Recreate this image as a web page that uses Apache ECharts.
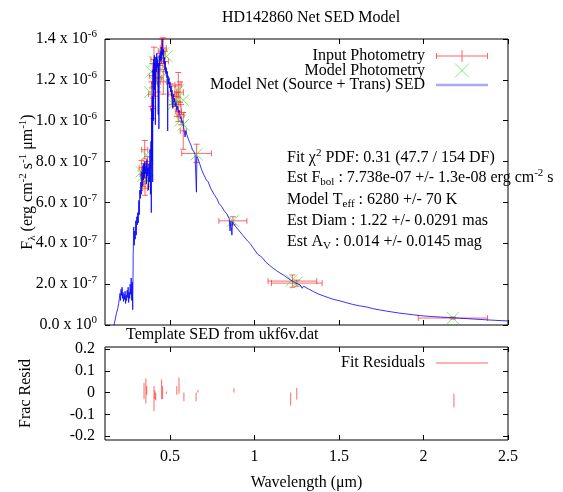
<!DOCTYPE html>
<html><head><meta charset="utf-8">
<script src="https://cdn.jsdelivr.net/npm/echarts@6/dist/echarts.min.js"></script>
<style>html,body{margin:0;padding:0;background:#fff}#c{width:563px;height:492px}</style>
</head><body><div id="c"></div>
<script>
// ---- Data (flux in units of 1e-7 erg cm^-2 s^-1 um^-1) ----
const specWl = [0.168,0.175,0.182,0.190,0.196,0.200,0.204,0.207,0.210,0.213,0.216,0.219,0.222,0.225,0.228,0.231,0.234,0.237,0.240,0.243,0.246,0.249,0.252,0.255,0.258,0.261,0.264,0.267,0.270,0.273,0.276,0.279,0.282,0.285,0.288,0.291,0.294,0.297,0.300,0.303,0.306,0.309,0.312,0.315,0.318,0.321,0.324,0.327,0.330,0.333,0.336,0.339,0.342,0.345,0.348,0.351,0.354,0.357,0.360,0.363,0.366,0.369,0.372,0.375,0.378,0.381,0.384,0.387,0.389,0.391,0.393,0.395,0.397,0.399,0.401,0.403,0.405,0.407,0.409,0.411,0.413,0.415,0.418,0.421,0.424,0.427,0.430,0.433,0.434,0.436,0.439,0.442,0.445,0.448,0.451,0.454,0.457,0.460,0.463,0.466,0.469,0.472,0.475,0.478,0.481,0.484,0.486,0.488,0.491,0.494,0.497,0.500,0.503,0.506,0.509,0.512,0.516,0.519,0.523,0.527,0.531,0.535,0.540,0.545,0.550,0.555,0.560,0.565,0.570,0.575,0.580,0.585,0.589,0.593,0.600,0.608,0.616,0.624,0.632,0.640,0.648,0.653,0.656,0.659,0.665,0.675,0.687,0.700,0.715,0.726,0.740,0.760,0.776,0.790,0.805,0.820,0.835,0.850,0.855,0.860,0.866,0.870,0.875,0.885,0.900,0.915,0.930,0.945,0.960,0.975,0.990,1.005,1.020,1.035,1.050,1.070,1.090,1.110,1.130,1.150,1.170,1.190,1.210,1.230,1.250,1.270,1.282,1.290,1.320,1.350,1.380,1.410,1.440,1.470,1.505,1.540,1.580,1.620,1.664,1.700,1.740,1.780,1.820,1.860,1.900,1.940,1.980,2.020,2.060,2.100,2.140,2.180,2.220,2.260,2.300,2.340,2.380,2.420,2.460,2.500];
const specFlux = [0.00,0.25,0.55,0.80,1.05,1.30,1.55,1.20,1.75,1.45,1.85,1.30,1.60,1.15,1.50,1.25,1.65,1.05,1.45,1.20,1.70,1.35,1.85,1.10,1.60,1.30,2.00,1.50,2.30,1.20,2.10,0.75,3.50,4.80,3.90,4.60,4.20,5.10,4.40,5.30,4.90,5.50,5.00,6.10,5.40,6.60,6.20,7.00,6.40,7.50,6.80,7.80,7.10,7.90,7.20,8.00,7.40,7.80,6.90,8.10,7.30,7.70,6.60,7.90,7.00,8.60,6.40,9.00,5.50,10.60,8.00,11.20,7.00,12.50,10.00,13.00,12.00,13.20,11.50,12.80,9.80,13.10,12.40,13.30,12.60,13.00,10.30,12.80,9.60,13.20,12.70,13.40,12.90,13.60,13.00,14.00,13.20,13.50,12.80,13.10,12.50,12.90,12.30,12.60,12.10,12.40,9.50,12.20,11.80,12.10,11.60,11.90,11.40,11.70,11.20,11.50,10.60,11.30,10.90,11.10,10.70,10.90,10.50,10.70,10.40,10.50,10.10,10.20,9.90,10.00,9.70,9.75,9.20,9.50,9.30,9.10,8.95,8.80,8.60,8.50,8.35,8.30,6.50,8.25,8.15,7.90,7.60,7.35,7.10,7.00,6.70,6.40,6.20,5.95,5.80,5.60,5.45,5.20,4.60,5.10,4.40,5.05,5.00,4.85,4.70,4.55,4.40,4.25,4.10,3.98,3.80,3.62,3.45,3.38,3.25,3.05,2.92,2.78,2.66,2.55,2.45,2.33,2.22,2.12,2.03,1.96,1.80,1.90,1.76,1.63,1.51,1.42,1.33,1.25,1.18,1.10,1.01,0.94,0.88,0.80,0.74,0.68,0.63,0.58,0.54,0.50,0.46,0.43,0.41,0.39,0.37,0.35,0.33,0.31,0.29,0.27,0.25,0.23,0.215,0.20];

const photWl      = [0.332,0.342,0.350,0.352,0.360,0.366,0.345,0.390,0.400,0.405,0.410,0.420,0.440,0.450,0.460,0.460,0.430,0.395,0.470,0.510,0.529,0.549,0.559,0.549,0.540,0.578,0.565,0.657,0.872,1.224,1.250,2.174];
const photFlux    = [7.70,7.19,8.58,6.70,7.60,7.84,7.40,11.30,10.60,13.00,11.80,12.50,12.70,13.40,13.56,11.90,12.10,12.20,12.90,11.30,11.20,11.76,11.40,10.46,10.80,9.50,10.30,8.40,5.10,2.15,2.05,0.34];
const photWlErr   = [0.015,0.015,0.018,0.015,0.015,0.018,0.020,0.018,0.015,0.018,0.018,0.020,0.018,0.020,0.018,0.018,0.020,0.018,0.020,0.018,0.020,0.020,0.020,0.018,0.020,0.018,0.018,0.088,0.083,0.144,0.150,0.205];
const photFluxErr = [0.35,0.40,0.45,0.35,0.40,0.40,0.50,0.60,0.50,0.60,0.60,0.60,0.60,0.60,0.50,0.60,0.70,0.60,0.50,0.50,0.50,0.60,0.50,0.50,0.60,0.90,0.50,0.45,0.20,0.30,0.15,0.05];

const modelWl   = [0.330,0.342,0.360,0.352,0.366,0.381,0.390,0.405,0.410,0.450,0.480,0.440,0.460,0.519,0.559,0.578,0.549,0.530,0.578,0.657,0.872,1.220,1.250,2.174];
const modelFlux = [7.50,7.30,8.33,7.00,7.60,11.40,12.40,12.90,11.90,12.10,13.15,12.50,13.30,10.80,10.00,11.00,11.50,11.00,9.80,8.35,5.10,2.18,2.08,0.34];

const residWl = [0.346,0.357,0.362,0.405,0.410,0.415,0.450,0.456,0.478,0.540,0.553,0.582,0.654,0.665,0.878,1.214,1.250,2.180];
const residLo = [-0.030,-0.050,-0.010,-0.085,-0.030,-0.035,-0.030,-0.030,-0.005,-0.010,-0.005,-0.040,-0.040,0.000,0.000,-0.060,-0.032,-0.068];
const residHi = [0.045,0.065,0.030,0.030,0.010,0.000,0.060,0.030,0.005,0.030,0.070,0.000,0.000,0.012,0.020,0.000,0.022,-0.005];

const xTicks = [0.5,1,1.5,2,2.5];
const xTickLabels = ['0.5','1','1.5','2','2.5'];
const fluxTicks = [0,2,4,6,8,10,12,14];
const fluxTickMant = ['0.0','2.0','4.0','6.0','8.0','1.0','1.2','1.4'];
const fluxTickExp = ['0','-7','-7','-7','-7','-6','-6','-6'];
const residTicks = [-0.2,-0.1,0,0.1,0.2];
const residTickLabels = ['-0.2','-0.1','0','0.1','0.2'];

// ---- Chart ----
const FONT = "'Liberation Serif','Times New Roman',serif";
const RED = 'rgba(255,0,0,0.6)';
const GREEN = 'rgba(40,230,40,0.8)';
const chart = echarts.init(document.getElementById('c'), null, {renderer:'canvas'});

const tickStyle = {show:true, inside:true, length:5, lineStyle:{color:'#000', width:1}};
function xAx(grid, pos, labels, extra) {
  return Object.assign({
    type:'value', gridIndex:grid, position:pos, min:0.115, max:2.5,
    axisLine:{show:false, onZero:false}, splitLine:{show:false},
    axisTick:Object.assign({customValues:xTicks}, tickStyle),
    axisLabel: labels ? {customValues:xTicks, margin:9, color:'#000', fontFamily:FONT, fontSize:16,
      formatter:v => xTickLabels[xTicks.indexOf(v)] ?? String(v)} : {show:false}
  }, extra||{});
}
const sub = {fontSize:11, lineHeight:10, verticalAlign:'bottom', fontFamily:FONT, color:'#000'};
const sup = {fontSize:11, lineHeight:10, verticalAlign:'top', fontFamily:FONT, color:'#000'};
const main = {fontSize:16, lineHeight:20, fontFamily:FONT, color:'#000'};
const richSet = {m:main, s:sup, b:sub};
const redIcon = 'path://M0,6.5L52,6.5L52,7.5L0,7.5Z M0,4L1,4L1,10L0,10Z M51,4L52,4L52,10L51,10Z M25.5,1L26.5,1L26.5,13L25.5,13Z';

const option = {
  animation:false,
  backgroundColor:'#fff',
  title:{text:'HD142860 Net SED Model', left:306, top:5, textAlign:'center',
    textStyle:{fontFamily:FONT, fontSize:16, fontWeight:'normal', color:'#000'}},
  grid:[
    {left:105, top:39, width:403, height:286, show:true, borderColor:'#000', borderWidth:1, backgroundColor:'transparent'},
    {left:105, top:347, width:403, height:94, show:true, borderColor:'#000', borderWidth:1, backgroundColor:'transparent'}
  ],
  xAxis:[
    xAx(0,'bottom',false),
    xAx(0,'top',false),
    xAx(1,'bottom',true,{name:'Wavelength (μm)', nameLocation:'middle', nameGap:35, nameMoveOverlap:false,
      nameTextStyle:{fontFamily:FONT, fontSize:16, color:'#000'}}),
    xAx(1,'top',false)
  ],
  yAxis:[
    {type:'value', gridIndex:0, position:'left', min:0, max:14, interval:2,
      axisLine:{show:false}, splitLine:{show:false}, axisTick:tickStyle,
      axisLabel:{margin:8, formatter:v => { const i = fluxTicks.indexOf(Math.round(v)); return '{m|' + fluxTickMant[i] + ' x 10}{s|' + fluxTickExp[i] + '}'; }, rich:richSet},
      name:'{m|F}{b|λ}{m| (erg cm}{s|-2}{m| s}{s|-1}{m| μm}{s|-1}{m|)}', nameLocation:'middle', nameGap:67, nameRotate:90, nameMoveOverlap:false,
      nameTextStyle:{rich:richSet, fontFamily:FONT, fontSize:16, color:'#000'}},
    {type:'value', gridIndex:0, position:'right', min:0, max:14, interval:2,
      axisLine:{show:false}, splitLine:{show:false}, axisTick:tickStyle, axisLabel:{show:false}},
    {type:'value', gridIndex:1, position:'left', min:-0.218, max:0.21,
      axisLine:{show:false, onZero:false}, splitLine:{show:false},
      axisTick:Object.assign({customValues:residTicks}, tickStyle),
      axisLabel:{customValues:residTicks, margin:10, color:'#000', fontFamily:FONT, fontSize:16,
        formatter:v => residTickLabels[residTicks.indexOf(v)] ?? String(v)},
      name:'Frac Resid', nameLocation:'middle', nameGap:71, nameRotate:90, nameMoveOverlap:false,
      nameTextStyle:{fontFamily:FONT, fontSize:16, color:'#000'}},
    {type:'value', gridIndex:1, position:'right', min:-0.218, max:0.21,
      axisLine:{show:false, onZero:false}, splitLine:{show:false},
      axisTick:Object.assign({customValues:residTicks}, tickStyle), axisLabel:{show:false}}
  ],
  legend:[
    {orient:'vertical', align:'right', right:70, top:43, itemWidth:52, itemHeight:14, itemGap:-3,
      selectedMode:false, textStyle:{fontFamily:FONT, fontSize:16, color:'#000', padding:[0,6,0,0]},
      data:[
        {name:'Input Photometry', icon:redIcon, itemStyle:{color:RED, borderWidth:0}},
        {name:'Model Photometry', icon:'path://M0,0L12,12M12,0L0,12',
          itemStyle:{color:'none', borderColor:GREEN, borderWidth:1}},
        {name:'Model Net (Source + Trans) SED', icon:'path://M0,0L52,0L52,2.5L0,2.5Z',
          itemStyle:{color:'rgba(110,110,255,0.6)', borderWidth:0}}
      ]},
    {orient:'vertical', align:'right', right:70, top:350, itemWidth:52, itemHeight:14,
      selectedMode:false, textStyle:{fontFamily:FONT, fontSize:16, color:'#000', padding:[0,6,0,0]},
      data:[{name:'Fit Residuals', icon:'path://M0,0L52,0L52,1.2L0,1.2Z', itemStyle:{color:RED, borderWidth:0}}]}
  ],
  graphic:[
    {type:'text', x:126, y:335, style:{text:'Template SED from ukf6v.dat', fontFamily:FONT, fontSize:16, fill:'#000', verticalAlign:'middle'}},
    {type:'text', x:287, y:158, style:{text:'{m|Fit χ}{s|2}{m| PDF: 0.31 (47.7 / 154 DF)}', rich:richSet, verticalAlign:'middle'}},
    {type:'text', x:287, y:178, style:{text:'{m|Est F}{b|bol}{m| : 7.738e-07 +/- 1.3e-08 erg cm}{s|-2}{m| s}', rich:richSet, verticalAlign:'middle'}},
    {type:'text', x:287, y:200, style:{text:'{m|Model T}{b|eff}{m| : 6280 +/- 70 K}', rich:richSet, verticalAlign:'middle'}},
    {type:'text', x:287, y:221, style:{text:'{m|Est Diam : 1.22 +/- 0.0291 mas}', rich:richSet, verticalAlign:'middle'}},
    {type:'text', x:287, y:242, style:{text:'{m|Est A}{b|V}{m| : 0.014 +/- 0.0145 mag}', rich:richSet, verticalAlign:'middle'}}
  ],
  series:[
    {name:'Input Photometry', type:'custom', xAxisIndex:0, yAxisIndex:0, z:2,
      itemStyle:{color:RED},
      data:photWl.map((w,i)=>[w, photFlux[i], photWlErr[i], photFluxErr[i]]),
      encode:{x:0, y:1},
      renderItem:(params, api) => {
        const x = api.value(0), y = api.value(1), xe = api.value(2), ye = api.value(3);
        const l = api.coord([x-xe, y]), r = api.coord([x+xe, y]);
        const t = api.coord([x, y+ye]), b = api.coord([x, y-ye]);
        const c = 3;
        const st = {stroke:RED, lineWidth:1};
        const ln = (x1,y1,x2,y2) => ({type:'line', shape:{x1,y1,x2,y2}, style:st});
        return {type:'group', children:[
          ln(l[0],l[1],r[0],r[1]), ln(t[0],t[1],b[0],b[1]),
          ln(l[0],l[1]-c,l[0],l[1]+c), ln(r[0],r[1]-c,r[0],r[1]+c),
          ln(t[0]-c,t[1],t[0]+c,t[1]), ln(b[0]-c,b[1],b[0]+c,b[1])
        ]};
      }},
    {name:'Model Photometry', type:'scatter', xAxisIndex:0, yAxisIndex:0, z:3,
      symbol:'path://M0,0L12,12M12,0L0,12', symbolSize:12,
      itemStyle:{color:'none', borderColor:GREEN, borderWidth:1},
      data:modelWl.map((w,i)=>[w, modelFlux[i]])},
    {name:'Model Net (Source + Trans) SED', type:'line', xAxisIndex:0, yAxisIndex:0, z:4,
      showSymbol:false, symbol:'none', sampling:null,
      itemStyle:{color:'#0000ff'},
      lineStyle:{color:'#0000ff', width:1, opacity:0.8},
      data:specWl.map((w,i)=>[w, specFlux[i]])},
    {name:'Fit Residuals', type:'custom', xAxisIndex:2, yAxisIndex:2, z:2,
      itemStyle:{color:RED},
      data:residWl.map((w,i)=>[w, residLo[i], residHi[i]]),
      encode:{x:0, y:[1,2]},
      renderItem:(params, api) => {
        const x = api.value(0);
        const a = api.coord([x, api.value(1)]), b = api.coord([x, api.value(2)]);
        return {type:'line', shape:{x1:a[0], y1:a[1], x2:b[0], y2:b[1]}, style:{stroke:RED, lineWidth:1}};
      }}
  ]
};
chart.setOption(option);
</script>
</body></html>
